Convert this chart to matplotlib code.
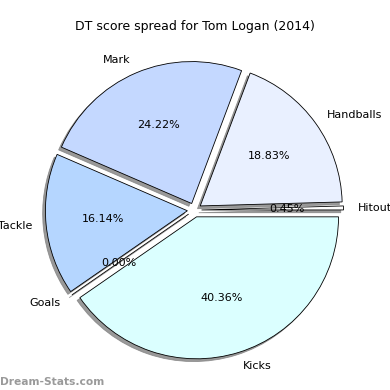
import matplotlib
matplotlib.use("Agg")
import matplotlib.pyplot as plt

labels = ["Hitout", "Handballs", "Mark", "Tackle", "Goals", "Kicks"]
shares = [0.45, 18.83, 24.22, 16.14, 0.00, 40.36]
colors = ["#ffffff", "#e9f0ff", "#c4d8ff", "#b5d6ff", "#b5d6ff", "#dbffff"]

fig = plt.figure(figsize=(3.9, 3.9), dpi=100)
ax = fig.add_axes([0.0436, 0.0064, 0.910, 0.910])

ax.pie(shares, labels=labels, colors=colors, explode=[0.05] * len(shares),
       autopct="%1.2f%%", startangle=0,
       shadow=dict(ox=-0.014, oy=-0.014, facecolor="#808080",
                   edgecolor="#808080", alpha=0.8),
       wedgeprops=dict(edgecolor="black", linewidth=0.6),
       textprops=dict(fontsize=8))
ax.set_title("DT score spread for Tom Logan (2014)", fontsize=9, pad=1)

fig.text(0.0, 0.012, "Dream-Stats.com", color="#9a9a9a", fontsize=7.7,
         fontweight="bold")

fig.savefig("out.png", dpi=100)
